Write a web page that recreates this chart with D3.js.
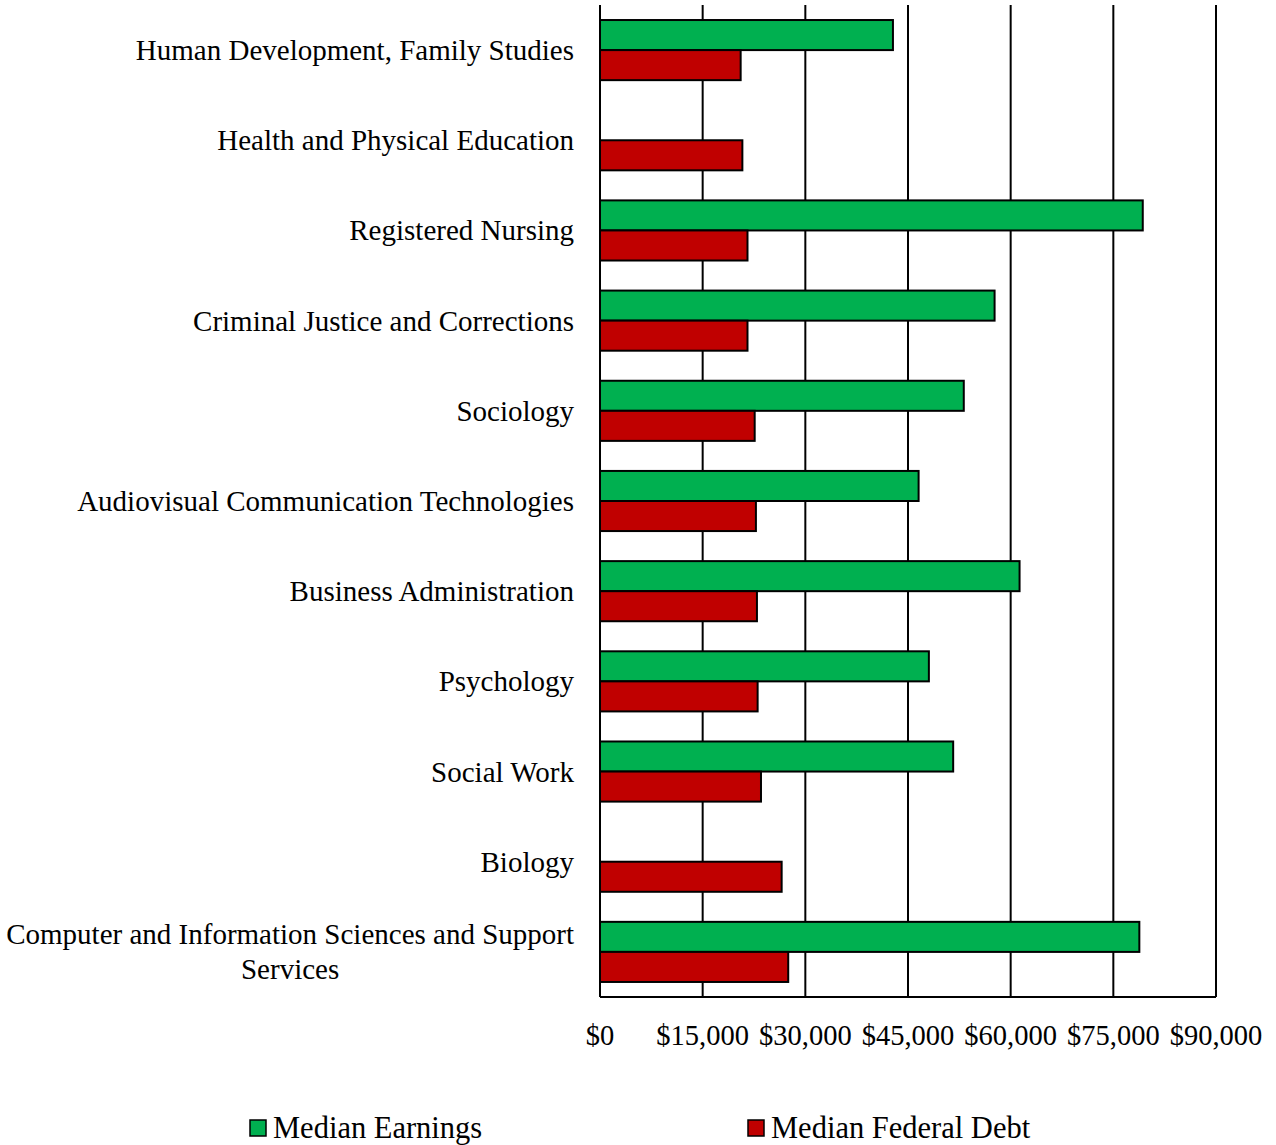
<!DOCTYPE html>
<html>
<head>
<meta charset="utf-8">
<script src="https://cdn.jsdelivr.net/npm/d3@7"></script>
<style>
  html, body { margin: 0; padding: 0; background: #fff; }
  svg text { font-family: "Liberation Serif", "Times New Roman", serif; fill: #000; }
</style>
</head>
<body>
<svg id="chart" width="1276" height="1145"></svg>
<script>
// Majors, listed top to bottom
const majors = [
  "Human Development, Family Studies",
  "Health and Physical Education",
  "Registered Nursing",
  "Criminal Justice and Corrections",
  "Sociology",
  "Audiovisual Communication Technologies",
  "Business Administration",
  "Psychology",
  "Social Work",
  "Biology",
  "Computer and Information Sciences and Support Services"
];

// Median earnings (null where not reported)
const medianEarnings = [42800, null, 79300, 57650, 53150, 46550, 61300, 48050, 51600, null, 78800];

// Median federal debt
const medianDebt = [20550, 20800, 21550, 21550, 22600, 22780, 22930, 23030, 23520, 26540, 27500];

const tickValues = [0, 15000, 30000, 45000, 60000, 75000, 90000];
const seriesNames = ["Median Earnings", "Median Federal Debt"];
const seriesColors = ["#00b050", "#c00000"];

const svg = d3.select("#chart");
const plot = { left: 600, right: 1216, top: 5, bottom: 997 };
const labelFont = 29;
const tickFont = 28.5;
const legendFont = 30.5;

const x = d3.scaleLinear().domain([0, 90000]).range([plot.left, plot.right]);
const y = d3.scaleBand().domain(majors).range([plot.top, plot.bottom])
  .paddingInner(1 / 3).paddingOuter(1 / 6);
const sub = d3.scaleBand().domain(seriesNames).range([0, y.bandwidth()]);

// Vertical gridlines
svg.append("g")
  .selectAll("line")
  .data(tickValues)
  .join("line")
  .attr("x1", d => x(d)).attr("x2", d => x(d))
  .attr("y1", plot.top).attr("y2", plot.bottom)
  .attr("stroke", "#000").attr("stroke-width", 2);

// Bottom axis line
svg.append("line")
  .attr("x1", plot.left).attr("x2", x(90000))
  .attr("y1", plot.bottom).attr("y2", plot.bottom)
  .attr("stroke", "#000").attr("stroke-width", 2);

// Bars
const rows = majors.map((m, i) => ({ major: m, values: [medianEarnings[i], medianDebt[i]] }));
const groups = svg.append("g").selectAll("g")
  .data(rows)
  .join("g")
  .attr("transform", d => `translate(0,${y(d.major)})`);

groups.selectAll("rect")
  .data(d => d.values.map((v, k) => ({ v, k })).filter(e => e.v != null))
  .join("rect")
  .attr("x", x(0))
  .attr("y", e => sub(seriesNames[e.k]))
  .attr("width", e => x(e.v) - x(0))
  .attr("height", sub.bandwidth())
  .attr("fill", e => seriesColors[e.k])
  .attr("stroke", "#000")
  .attr("stroke-width", 2);

// Category labels, right aligned; wrapped lines centred within their block
const labelRight = 574;
const maxLabelWidth = 575;
const labelG = svg.append("g").attr("font-size", labelFont);
const measure = s => {
  const t = labelG.append("text").text(s);
  const w = t.node().getComputedTextLength();
  t.remove();
  return w;
};
majors.forEach(m => {
  const cy = y(m) + y.bandwidth() / 2;
  if (measure(m) <= maxLabelWidth) {
    labelG.append("text").text(m)
      .attr("x", labelRight).attr("y", cy).attr("text-anchor", "end")
      .attr("dominant-baseline", "central");
    return;
  }
  const words = m.split(" ");
  const lines = [];
  let cur = [];
  words.forEach(w => {
    if (cur.length && measure([...cur, w].join(" ")) > maxLabelWidth) {
      lines.push(cur.join(" "));
      cur = [w];
    } else cur.push(w);
  });
  lines.push(cur.join(" "));
  const blockW = d3.max(lines, measure);
  const lineH = 35;
  const t = labelG.append("text")
    .attr("text-anchor", "middle")
    .attr("dominant-baseline", "central");
  lines.forEach((l, i) => {
    t.append("tspan")
      .attr("x", labelRight - blockW / 2)
      .attr("y", cy + (i - (lines.length - 1) / 2) * lineH)
      .text(l);
  });
});

// Tick labels
const fmt = d => "$" + d3.format(",")(d);
svg.append("g").attr("font-size", tickFont)
  .selectAll("text")
  .data(tickValues)
  .join("text")
  .attr("x", d => x(d))
  .attr("y", 1035)
  .attr("text-anchor", "middle")
  .attr("dominant-baseline", "central")
  .text(fmt);

// Legend
const legendX = [250, 748];
const legend = svg.append("g").attr("font-size", legendFont);
seriesNames.forEach((s, i) => {
  legend.append("rect")
    .attr("x", legendX[i]).attr("y", 1120)
    .attr("width", 16).attr("height", 16)
    .attr("fill", seriesColors[i]).attr("stroke", "#000").attr("stroke-width", 1.5);
  legend.append("text")
    .attr("x", legendX[i] + 23).attr("y", 1128)
    .attr("dominant-baseline", "central")
    .text(s);
});
</script>
</body>
</html>
